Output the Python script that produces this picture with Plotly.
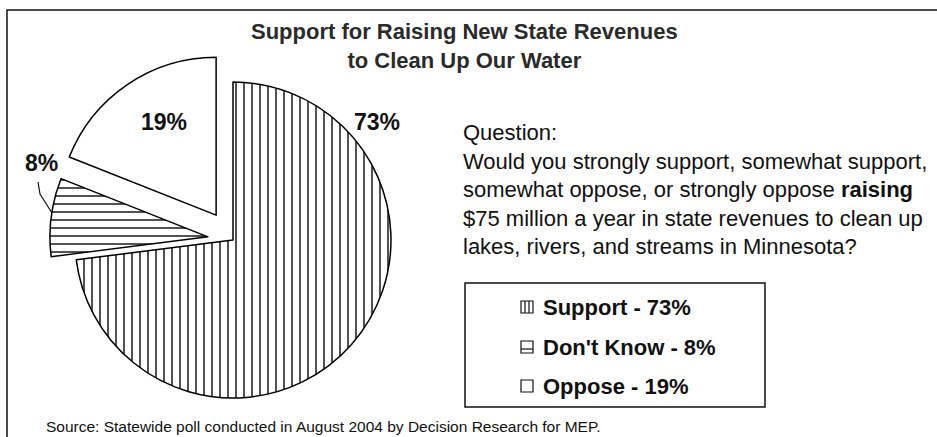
import plotly.graph_objects as go

# ---- data ----
categories = ["Support", "Don't Know", "Oppose"]
values = [73, 8, 19]

title_lines = ["Support for Raising New State Revenues", "to Clean Up Our Water"]
question_lines = [
    "Question:",
    "Would you strongly support, somewhat support,",
    "somewhat oppose, or strongly oppose <b>raising</b>",
    "$75 million a year in state revenues to clean up",
    "lakes, rivers, and streams in Minnesota?",
]
source_text = "Source: Statewide poll conducted in August 2004 by Decision Research for MEP."

# ---- styling ----
W, H = 937, 437
FONT = "Arial, Liberation Sans, sans-serif"
pulls = [0, 0.16, 0.19]
patterns = ["|", "-", ""]


def px(x):
    return x / W


def py(y):
    return 1 - y / H


fig = go.Figure()
fig.add_trace(go.Pie(
    labels=categories,
    values=values,
    sort=False,
    direction="clockwise",
    rotation=0,
    pull=pulls,
    textinfo="none",
    hoverinfo="label+percent",
    showlegend=False,
    domain=dict(x=[px(45), px(421)], y=[py(428), py(52)]),
    marker=dict(
        colors=["white"] * 3,
        line=dict(color="black", width=1.5),
        pattern=dict(shape=patterns, fgcolor="black", bgcolor="white",
                     size=8, solidity=0.17),
    ),
))

annotations = []
# title
annotations.append(dict(
    text="<b>" + "<br>".join(title_lines) + "</b>",
    x=px(464), y=py(46), xref="paper", yref="paper",
    xanchor="center", yanchor="middle", showarrow=False,
    font=dict(family=FONT, size=22, color="#2a2a2a"),
))
# slice labels
label_pos = [(377, 122), (41, 163), (164, 122)]
for v, (lx, ly) in zip(values, label_pos):
    annotations.append(dict(
        text=f"<b>{v}%</b>", x=px(lx), y=py(ly), xref="paper", yref="paper",
        xanchor="center", yanchor="middle", showarrow=False,
        font=dict(family=FONT, size=23, color="#111"),
    ))
# question
annotations.append(dict(
    text="<br>".join(question_lines),
    x=px(461), y=py(189), xref="paper", yref="paper",
    xanchor="left", yanchor="middle", align="left", showarrow=False,
    font=dict(family=FONT, size=22, color="#111"),
))
# legend entries
legend_y = [307, 347, 386]
for c, v, ly in zip(categories, values, legend_y):
    annotations.append(dict(
        text=f"<b>{c} - {v}%</b>", x=px(541), y=py(ly), xref="paper", yref="paper",
        xanchor="left", yanchor="middle", showarrow=False,
        font=dict(family=FONT, size=22, color="#111"),
    ))
# source
annotations.append(dict(
    text=source_text, x=px(44), y=py(426), xref="paper", yref="paper",
    xanchor="left", yanchor="middle", showarrow=False,
    font=dict(family=FONT, size=15.5, color="#111"),
))

shapes = []
line_style = dict(color="#111", width=1.5)
# outer frame (top and left)
shapes.append(dict(type="path", xref="paper", yref="paper",
                   path=f"M {px(937)},{py(10)} L {px(7)},{py(10)} L {px(7)},{py(437)}",
                   line=line_style))
# leader line for the 8% label
shapes.append(dict(type="path", xref="paper", yref="paper",
                   path=f"M {px(38)},{py(182)} L {px(40)},{py(194)} L {px(52)},{py(213)}",
                   line=dict(color="#111", width=1.2)))
# legend box
shapes.append(dict(type="rect", xref="paper", yref="paper",
                   x0=px(465), x1=px(765), y0=py(407), y1=py(283),
                   line=line_style, fillcolor="rgba(0,0,0,0)"))
# legend symbols
for i, ly in enumerate(legend_y):
    x0, x1, y0, y1 = 521, 533, ly - 6, ly + 6
    shapes.append(dict(type="rect", xref="paper", yref="paper",
                       x0=px(x0), x1=px(x1), y0=py(y1), y1=py(y0),
                       line=dict(color="#111", width=1.2), fillcolor="white"))
    if patterns[i] == "|":
        for lx in (525, 529):
            shapes.append(dict(type="line", xref="paper", yref="paper",
                               x0=px(lx), x1=px(lx), y0=py(y1), y1=py(y0),
                               line=dict(color="#111", width=1.2)))
    elif patterns[i] == "-":
        shapes.append(dict(type="line", xref="paper", yref="paper",
                           x0=px(x0), x1=px(x1), y0=py(ly + 2), y1=py(ly + 2),
                           line=dict(color="#111", width=1.2)))

fig.update_layout(
    width=W, height=H,
    margin=dict(l=0, r=0, t=0, b=0),
    paper_bgcolor="white", plot_bgcolor="white",
    annotations=annotations,
    shapes=shapes,
)

fig.write_html("out.html")
